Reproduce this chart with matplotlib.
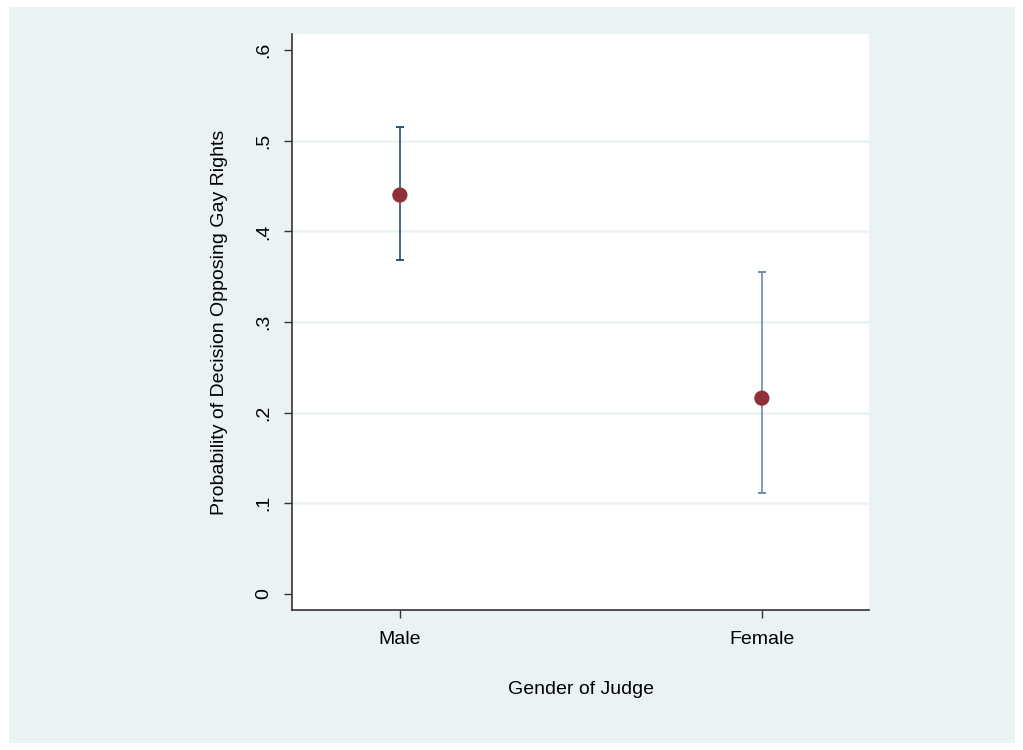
import matplotlib
matplotlib.use("Agg")
import matplotlib.pyplot as plt
from matplotlib.patches import Rectangle

plt.rcParams['font.family'] = ['Liberation Sans', 'DejaVu Sans']

# Predicted probabilities with 95% confidence bounds
genders = ["Male", "Female"]
estimates = [0.440, 0.216]
lower = [0.368, 0.111]
upper = [0.515, 0.355]
bar_colors = ["#2c4f72", "#6b8cab"]
yticks = [0, 0.1, 0.2, 0.3, 0.4, 0.5, 0.6]
ytick_labels = ["0", ".1", ".2", ".3", ".4", ".5", ".6"]

W, H = 1023, 750
fig = plt.figure(figsize=(W / 100, H / 100), dpi=100)
fig.patch.set_facecolor("white")

# Light graph-region panel
bg = Rectangle((9 / W, 1 - 743 / H), (1015 - 9) / W, (743 - 7) / H,
               transform=fig.transFigure, facecolor="#eaf2f3",
               edgecolor="none", zorder=-10)
fig.add_artist(bg)

ax = fig.add_axes([292 / W, 1 - 610 / H, (869 - 292) / W, (610 - 34) / H])
ax.set_zorder(1)
ax.set_facecolor("white")

x = [1, 2]
for xi, lo, hi, c in zip(x, lower, upper, bar_colors):
    ax.plot([xi, xi], [lo, hi], color=c, lw=1.2, zorder=2, solid_capstyle="butt")
    for yv in (lo, hi):
        ax.plot([xi - 0.0115, xi + 0.0115], [yv, yv], color=c, lw=1.4,
                zorder=2, solid_capstyle="butt")
ax.scatter(x, estimates, s=120, color="#8f3038", zorder=3, edgecolors="none")

ax.set_xlim(0.702, 2.296)
ax.set_ylim(-0.0176, 0.6176)
ax.set_yticks(yticks)
ax.set_yticklabels(ytick_labels, rotation=90, va="center")
ax.set_xticks(x)
ax.set_xticklabels(genders)
ax.tick_params(axis="both", labelsize=14, length=6, width=1, color="#333333")
ax.tick_params(axis="x", pad=9)
ax.tick_params(axis="y", pad=8)

for yv in yticks[1:-1]:
    ax.axhline(yv, color="#eaf2f3", lw=1.8, zorder=1)

for s in ("top", "right"):
    ax.spines[s].set_visible(False)
for s in ("left", "bottom"):
    ax.spines[s].set_color("#333333")
    ax.spines[s].set_linewidth(1.2)

ax.set_xlabel("Gender of Judge", fontsize=14, labelpad=24)
ax.set_ylabel("Probability of Decision Opposing Gay Rights", fontsize=14,
              labelpad=20)

fig.savefig("out.png", dpi=100, facecolor="white")
